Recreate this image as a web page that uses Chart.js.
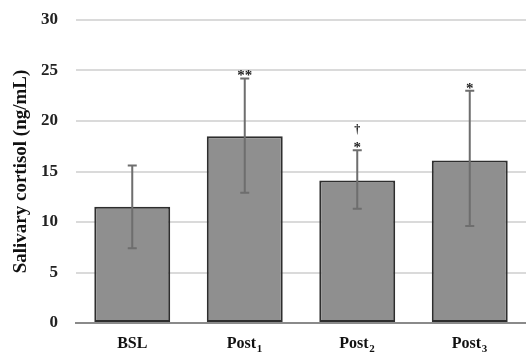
<!DOCTYPE html>
<html>
<head>
<meta charset="utf-8">
<script src="https://cdn.jsdelivr.net/npm/chart.js@4"></script>
<style>
html,body{margin:0;padding:0;background:#fff;}
#wrap{width:526px;height:352px;position:relative;}
</style>
</head>
<body>
<div id="wrap"><canvas id="c" width="526" height="352"></canvas></div>
<script>
const categories = ['BSL', 'Post\u2081', 'Post\u2082', 'Post\u2083'];
const means = [11.5, 18.5, 14.1, 16.1];
const errHigh = [15.6, 24.2, 17.1, 23.0];
const errLow = [7.4, 12.9, 11.3, 9.6];
const sigMarks = ['', '**', '*', '*'];
const daggerMarks = ['', '', '\u2020', ''];
const yTicks = [0, 5, 10, 15, 20, 25, 30];
const yTitle = 'Salivary cortisol (ng/mL)';

const serif = '"Liberation Serif", "DejaVu Serif", serif';
const subMap = { '\u2080': '0', '\u2081': '1', '\u2082': '2', '\u2083': '3', '\u2084': '4' };

const errorBarPlugin = {
  id: 'errorBars',
  afterDatasetsDraw(chart) {
    const ctx = chart.ctx;
    const meta = chart.getDatasetMeta(0);
    const y = chart.scales.y;
    ctx.save();
    meta.data.forEach((bar, i) => {
      const x = bar.x;
      const yh = y.getPixelForValue(errHigh[i]);
      const yl = y.getPixelForValue(errLow[i]);
      ctx.strokeStyle = '#6e6e6e';
      ctx.lineWidth = 2;
      ctx.beginPath();
      ctx.moveTo(x, yh); ctx.lineTo(x, yl);
      ctx.moveTo(x - 4.5, yh); ctx.lineTo(x + 4.5, yh);
      ctx.moveTo(x - 4.5, yl); ctx.lineTo(x + 4.5, yl);
      ctx.stroke();
      ctx.fillStyle = '#222';
      ctx.textAlign = 'center';
      ctx.textBaseline = 'middle';
      ctx.font = 'bold 15px ' + serif;
      if (sigMarks[i]) ctx.fillText(sigMarks[i], x, yh - 2);
      ctx.font = 'bold 12px ' + serif;
      if (daggerMarks[i]) ctx.fillText(daggerMarks[i], x, yh - 20);
    });
    ctx.restore();
  },
  afterDraw(chart) {
    const ctx = chart.ctx;
    const xs = chart.scales.x;
    ctx.save();
    ctx.fillStyle = '#111';
    ctx.textBaseline = 'alphabetic';
    categories.forEach((lab, i) => {
      let base = '', sub = '';
      for (const ch of lab) { if (subMap[ch] !== undefined) sub += subMap[ch]; else base += ch; }
      const cx = xs.getPixelForValue(i);
      const mainFont = 'bold 16px ' + serif;
      const subFont = 'bold 11px ' + serif;
      ctx.font = mainFont; const wb = ctx.measureText(base).width;
      ctx.font = subFont; const ws = sub ? ctx.measureText(sub).width + 1 : 0;
      const x0 = cx - (wb + ws) / 2;
      const by = 348;
      ctx.textAlign = 'left';
      ctx.font = mainFont; ctx.fillText(base, x0, by);
      if (sub) { ctx.font = subFont; ctx.fillText(sub, x0 + wb + 0.5, by + 4); }
    });
    ctx.restore();
  }
};

new Chart(document.getElementById('c'), {
  type: 'bar',
  data: {
    labels: categories,
    datasets: [{
      data: means,
      backgroundColor: '#8f8f8f',
      borderColor: '#2e2e2e',
      borderWidth: 2,
      borderSkipped: false,
      barPercentage: 0.675,
      categoryPercentage: 1.0
    }]
  },
  options: {
    responsive: false,
    animation: false,
    devicePixelRatio: 1,
    layout: { padding: { top: 20, right: 0, left: 0, bottom: 0 } },
    plugins: { legend: { display: false }, tooltip: { enabled: false } },
    scales: {
      x: {
        grid: { display: false },
        border: { display: true, color: '#8a8a8a', width: 2 },
        ticks: { display: false },
        afterFit(s) { s.height = 29; s.paddingLeft = 0; s.paddingRight = 0; }
      },
      y: {
        min: 0, max: 30,
        afterBuildTicks(s) { s.ticks = yTicks.map(v => ({ value: v })); },
        grid: { color: '#dadada', lineWidth: 2, drawTicks: false },
        border: { display: false },
        ticks: { color: '#222', font: { family: serif, size: 17, weight: 'bold' }, padding: 18 },
        title: { display: true, text: yTitle, color: '#111', font: { family: serif, size: 19, weight: 'bold' }, padding: { top: 10, bottom: 0 } },
        afterFit(s) { s.width = 76; s.paddingTop = 0; s.paddingBottom = 0; }
      }
    }
  },
  plugins: [errorBarPlugin]
});
</script>
</body>
</html>
